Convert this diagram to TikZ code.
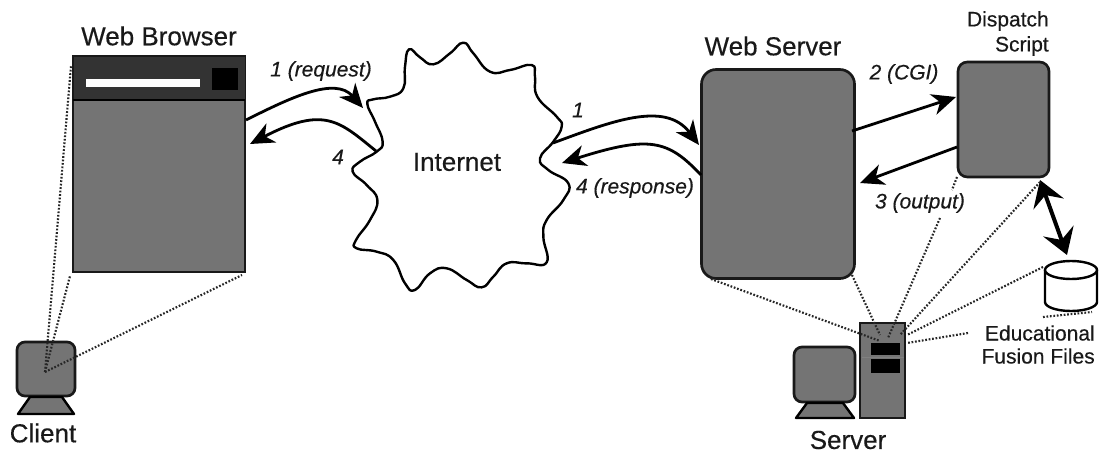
\documentclass[tikz,border=0pt]{standalone}
\usepackage{fontspec}
\setmainfont{Liberation Sans}[RawFeature={embolden=0.35}]
\usetikzlibrary{arrows.meta}
\definecolor{halftone}{HTML}{747474}
\tikzset{
  panel/.style={draw=black!90,line width=2pt,fill=halftone,inner sep=0pt,rectangle},
  softpanel/.style={panel,rounded corners=#1},
  title/.style={font=\fontsize{19.5}{22}\selectfont,inner sep=0pt,text=black!90},
  small/.style={font=\fontsize{15.75}{18}\selectfont,inner sep=0pt,align=right,text=black!90},
  flowlabel/.style={font=\fontsize{15.75}{18}\selectfont\itshape,inner sep=0pt,text=black!90},
  flow/.style={line width=2.1pt,-{Stealth[length=18pt,width=16pt,inset=5.5pt]}},
  twoway/.style={line width=3pt,{Stealth[length=19pt,width=24pt,inset=7pt]}-{Stealth[length=19pt,width=24pt,inset=7pt]}},
  seen/.style={line width=1.6pt,dash pattern=on 1.3pt off 1.3pt,black!85},
  outline/.style={line width=1.8pt,draw=black,line join=round},
}
\begin{document}
\begin{tikzpicture}[x=0.75pt,y=-0.75pt]
\useasboundingbox (0,0) rectangle (1099,453);
\fill[white] (0,0) rectangle (1099,453);

% Internet cloud
\begin{scope}[shift={(340,30)},x=0.25pt,y=-0.25pt]
\draw[outline,fill=white] plot[smooth cycle,tension=0.8] coordinates {
 (82,222) (100,208) (150,200) (190,175) (195,110) (207,58) (240,82) (280,103) (330,70) (370,38)
 (400,70) (450,125) (510,120) (575,105) (585,140) (592,200) (650,260) (665,290) (640,335) (600,385)
 (625,420) (685,460) (670,510) (620,570) (610,620) (620,697) (560,700) (500,700) (460,740) (425,772)
 (380,750) (320,715) (270,730) (225,780) (195,760) (160,690) (110,665) (50,655) (48,630) (90,570)
 (112,510) (80,465) (38,425) (60,395) (110,365) (128,335) (105,275)};
\end{scope}
\node[title] (internet) at (457,162) {Internet};

% Browser
\node[panel,minimum width=129pt,minimum height=162pt] (browser) at (159,164) {};
\fill[black!80] (74,57) rectangle (245,100);
\draw[line width=1.8pt] (73,100) -- (245,100);
\node[draw=black!80,line width=0.8pt,fill=white,inner sep=0pt,minimum width=87pt,minimum height=6.5pt] (urlbar) at (143,83) {};
\node[fill=black,inner sep=0pt,minimum width=19pt,minimum height=17pt] (closebox) at (225,79) {};
\node[title] (browserlabel) at (159,36) {Web Browser};

% Client
\node[softpanel=6pt,minimum width=43.5pt,minimum height=40.5pt] (clientscreen) at (46,369) {};
\draw[outline,fill=halftone] (30,397) -- (62,397) -- (74,414) -- (18,414) -- cycle;
\node[title] (clientlabel) at (43,433) {Client};
\coordinate (eye) at (45,372);
\coordinate (bTL) at (71,66);
\coordinate (bBL) at (70,276);
\coordinate (bBR) at (242,275);
\draw[seen] (eye) -- (bTL);
\draw[seen] (eye) -- (bBL);
\draw[seen] (eye) -- (bBR);

% Web server and dispatch
\node[softpanel=11pt,minimum width=114.75pt,minimum height=156.75pt] (webserver) at (778,174) {};
\node[title] (webserverlabel) at (773,46) {Web Server};
\node[softpanel=7pt,minimum width=68.25pt,minimum height=86.25pt] (dispatch) at (1003.5,119.5) {};
\node[small,anchor=east] (dispatchlabelA) at (1049,21) {Dispatch};
\node[small,anchor=east] (dispatchlabelB) at (1049,46) {Script};

% Cylinder
\coordinate (cyl) at (1071,270);
\draw[outline,fill=white] (1045,270) -- (1045,302) arc[start angle=180,end angle=0,x radius=26,y radius=9] -- (1097,270);
\draw[outline,fill=white] (cyl) ellipse[x radius=26,y radius=9];

% Server machine
\node[softpanel=6pt,minimum width=45.75pt,minimum height=41.25pt] (servermonitor) at (824.5,374.5) {};
\draw[outline,fill=halftone] (807,403) -- (843,403) -- (854,418) -- (796,418) -- cycle;
\node[panel,minimum width=33.75pt,minimum height=71.25pt] (tower) at (882.5,370.5) {};
\fill[black] (871,343) rectangle (900,355);
\fill[black] (871,359) rectangle (900,373);
\draw[black!50,line width=0.6pt] (862,357) -- (904,357);
\node[title] (serverlabel) at (848,440) {Server};
\node[small,anchor=east] (filesA) at (1095,333) {Educational};
\node[small,anchor=east] (filesB) at (1095,356) {Fusion Files};

% Flow connectors
\coordinate (bOut) at (246,120);
\coordinate (cIn) at (363,108);
\coordinate (cBack) at (376,151);
\coordinate (bIn) at (250,144);
\coordinate (cOut) at (553,143);
\coordinate (sIn) at (699,145);
\coordinate (sOut) at (701,175);
\coordinate (cIn2) at (562,163);
\coordinate (sCgi) at (852,131);
\coordinate (dIn) at (956,97);
\coordinate (dOut) at (957,147);
\coordinate (sRet) at (860,183);
\coordinate (dBR) at (1040,180);
\coordinate (cylTop) at (1067,255);
\draw[flow] (bOut) .. controls (290,98) and (335,76) .. (cIn);
\draw[flow] (cBack) .. controls (340,122) and (325,105) .. (bIn);
\draw[flow] (cOut) .. controls (610,122) and (665,100) .. (sIn);
\draw[flow] (sOut) .. controls (668,140) and (650,135) .. (cIn2);
\draw[flow] (sCgi) -- (dIn);
\draw[flow] (dOut) -- (sRet);
\draw[twoway] (dBR) -- (cylTop);

% Dotted sight lines
\coordinate (wBL) at (711,279);
\coordinate (wBR) at (852,275);
\coordinate (sA) at (880,341);
\coordinate (sB) at (880,335);
\coordinate (sC) at (888,338);
\coordinate (sD) at (900,335);
\coordinate (sE) at (907,335);
\coordinate (sF) at (907,343);
\coordinate (oEnd) at (940,218);
\coordinate (dBL) at (957,177);
\coordinate (dBLb) at (952,190);
\coordinate (dCorner) at (1040,182);
\coordinate (cylSide) at (1043,267);
\coordinate (txt) at (968,333);
\coordinate (cylA) at (1043,317);
\coordinate (cylB) at (1092,312);
\draw[seen] (wBL) -- (sA);
\draw[seen] (wBR) -- (sB);
\draw[seen] (oEnd) -- (sC);
\draw[seen] (dBL) -- (dBLb);
\draw[seen] (dCorner) -- (sD);
\draw[seen] (cylSide) -- (sE);
\draw[seen] (txt) -- (sF);
\draw[seen] (cylA) -- (cylB);

% Flow labels
\node[flowlabel] (l1) at (321,71) {1 (request)};
\node[flowlabel] (l2) at (338,157) {4};
\node[flowlabel] (l3) at (578,110) {1};
\node[flowlabel] (l4) at (635,188) {4 (response)};
\node[flowlabel] (l5) at (904,74) {2 (CGI)};
\node[flowlabel] (l6) at (920,203) {3 (output)};
\end{tikzpicture}
\end{document}
